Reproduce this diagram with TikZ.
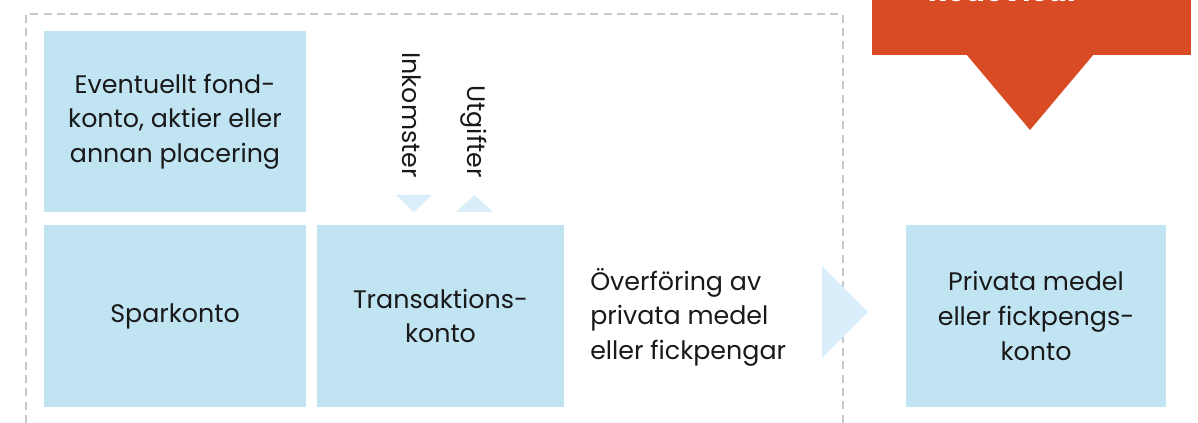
\documentclass[tikz,border=0pt]{standalone}
\usepackage{fontspec}
\setmainfont{Poppins}
\usetikzlibrary{positioning}

\definecolor{kontoblue}{HTML}{C1E4F3}
\definecolor{pilblue}{HTML}{D9EEF8}
\definecolor{redored}{HTML}{D84B24}
\definecolor{ramgray}{HTML}{C8C8C8}

\begin{document}
\begin{tikzpicture}[
  x=0.75pt, y=-0.75pt,
  every node/.style={font=\fontsize{19}{25.9}\selectfont, text=black!90},
  konto/.style={fill=kontoblue, inner sep=0pt, align=center, minimum height=136.5pt},
  pil/.style={fill=pilblue},
  ram/.style={draw=ramgray, line width=1.5pt, dash pattern=on 6pt off 4pt}
]
\useasboundingbox (0,0) rectangle (1198,423);

% Frame
\draw[ram] (26,423) -- (26,14) -- (843,14) -- (843,423);

% Accounts
\node[konto, minimum width=196.5pt, minimum height=135.75pt] (fond) at (175,121.5) {Eventuellt fond-\\konto, aktier eller\\annan placering};
\node[konto, minimum width=196.5pt] (spar) at (175,316) {Sparkonto};
\node[konto, minimum width=185.25pt] (trans) at (440.5,316) {Transaktions-\\konto};
\node[konto, minimum width=195pt] (privat) at (1036,316) {Privata medel\\eller fickpengs-\\konto};

% Flows
\node[rotate=-90, anchor=east, inner sep=0pt] (inkomster) at (412,178) {Inkomster};
\node[rotate=-90, anchor=east, inner sep=0pt] (utgifter) at (474,178) {Utgifter};
\fill[pil] (396,195) -- (432,195) -- (414,212) -- cycle;
\fill[pil] (456,212) -- (493,212) -- (474.5,195) -- cycle;
\node[anchor=west, align=left, inner sep=0pt] (overforing) at (590,317) {Överföring av\\privata medel\\eller fickpengar};
\fill[pil] (822,266) -- (868,312) -- (822,358) -- cycle;

% Report
\node[fill=redored, anchor=north west, inner sep=0pt, minimum width=239.25pt, minimum height=41.25pt] (redo) at (872,0) {};
\node[anchor=base, text=white, font=\fontsize{22}{26}\selectfont\bfseries] (redotext) at (1004,1.5) {Redovisar};
\fill[redored] (966,54) -- (1094,54) -- (1030,130) -- cycle;

\end{tikzpicture}
\end{document}
